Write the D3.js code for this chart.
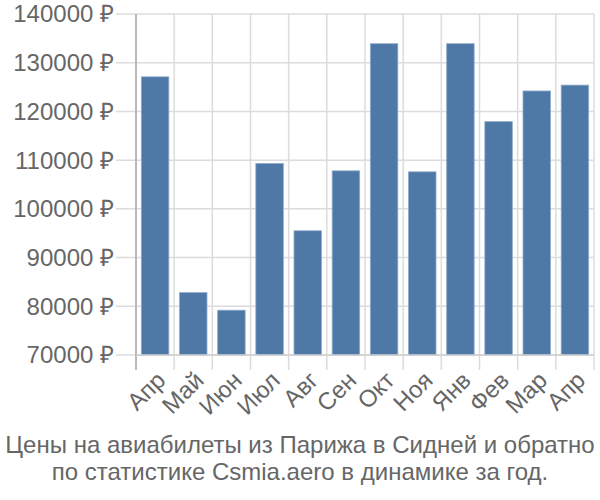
<!DOCTYPE html>
<html><head><meta charset="utf-8">
<script src="https://cdn.jsdelivr.net/npm/d3@7/dist/d3.min.js"></script>
<style>body{margin:0;background:#fff}svg{display:block}</style>
</head><body>
<svg id="c" width="600" height="500"></svg>
<script>
const months = ["Апр","Май","Июн","Июл","Авг","Сен","Окт","Ноя","Янв","Фев","Мар","Апр"];
const prices = [127100, 82800, 79200, 109300, 95500, 107800, 133900, 107600, 133900, 117900, 124200, 125400];
const yTicks = [70000, 80000, 90000, 100000, 110000, 120000, 130000, 140000];
const titleLines = ["Цены на авиабилеты из Парижа в Сидней и обратно", "по статистике Csmia.aero в динамике за год."];

const svg = d3.select("#c");
const L = 136, R = 594, T = 14, B = 355;
const font = "'Liberation Sans', Arial, sans-serif";
const idx = months.map((m,i)=>i);
const x = d3.scaleBand().domain(idx).range([L, R]).paddingInner(0.28).paddingOuter(0.14);
const xb = d3.scaleBand().domain(idx).range([L, R]);
const y = d3.scaleLinear().domain([70000, 140000]).range([B, T]);

// horizontal grid
svg.append("g").selectAll("line").data(yTicks).join("line")
  .attr("x1", 116).attr("x2", R).attr("y1", d=>y(d)).attr("y2", d=>y(d))
  .attr("stroke", "#dcdcdc").attr("stroke-width", 1.5);
// vertical grid
const vb = idx.map(i=>xb(i)).concat([R]);
svg.append("g").selectAll("line").data(vb).join("line")
  .attr("x1", d=>d).attr("x2", d=>d).attr("y1", T).attr("y2", 370)
  .attr("stroke", "#dcdcdc").attr("stroke-width", 1.5);
// left axis line
svg.append("line").attr("x1", L).attr("x2", L).attr("y1", T).attr("y2", 370)
  .attr("stroke", "#aaaaaa").attr("stroke-width", 1.5);

// bars
svg.append("g").selectAll("rect").data(prices).join("rect")
  .attr("x", (d,i)=>x(i)).attr("width", x.bandwidth())
  .attr("y", d=>y(d)).attr("height", d=>B - y(d))
  .attr("fill", "#4e78a6").attr("stroke", "#8eaacb").attr("stroke-width", 0.8);

// bottom line
svg.append("line").attr("x1", L).attr("x2", R).attr("y1", B).attr("y2", B)
  .attr("stroke", "#cfcfcf").attr("stroke-width", 1.5);

// y labels
svg.append("g").selectAll("text").data(yTicks).join("text")
  .attr("x", 114).attr("y", d=>y(d)).attr("dy", "0.35em")
  .attr("text-anchor", "end").attr("font-family", font).attr("font-size", 24)
  .attr("fill", "#666").text(d=>d + " ₽");

// x labels
svg.append("g").selectAll("text").data(months).join("text")
  .attr("text-anchor", "end").attr("font-family", font).attr("font-size", 24)
  .attr("fill", "#666")
  .attr("transform", (d,i)=>`translate(${xb(i)+xb.bandwidth()/2},${370}) rotate(-45)`)
  .attr("dy", "0.7em")
  .text(d=>d);

// title
svg.append("g").selectAll("text").data(titleLines).join("text")
  .attr("x", 300).attr("y", (d,i)=>453 + i*27)
  .attr("text-anchor", "middle").attr("font-family", font).attr("font-size", 24)
  .attr("fill", "#666").text(d=>d);
</script>
</body></html>
